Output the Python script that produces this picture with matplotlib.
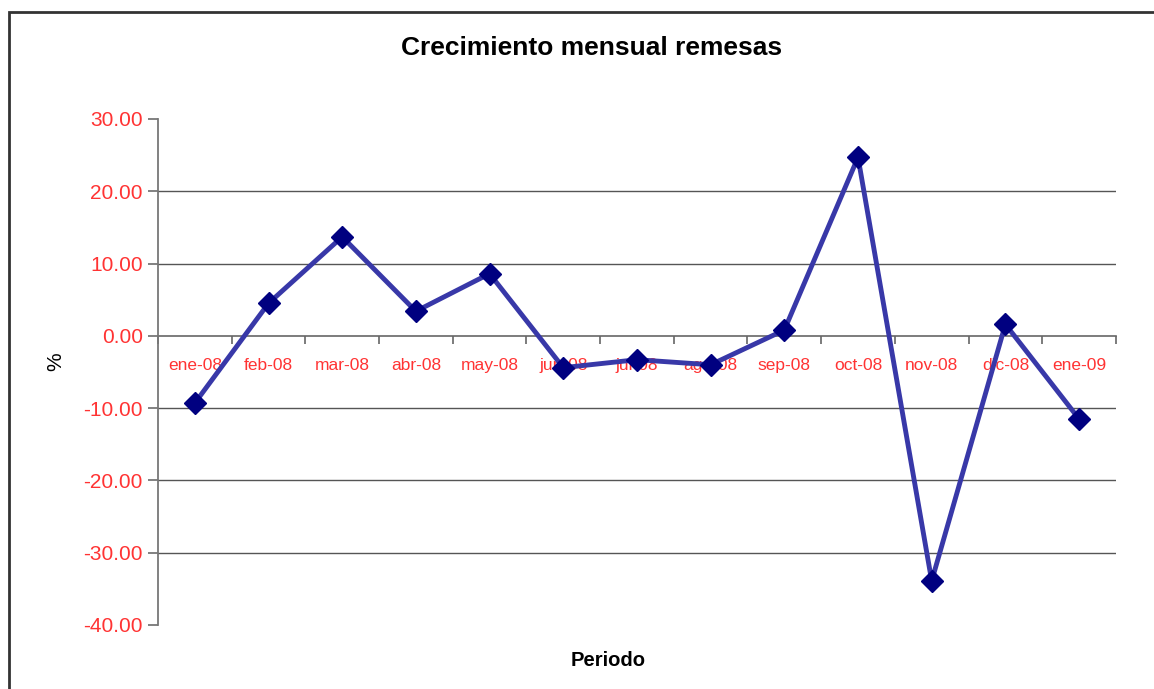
import matplotlib.pyplot as plt
from matplotlib.patches import Rectangle
import numpy as np

plt.rcParams['font.family'] = ['Liberation Sans', 'DejaVu Sans']

# data
periodos = ['ene-08', 'feb-08', 'mar-08', 'abr-08', 'may-08', 'jun-08', 'jul-08',
            'ago-08', 'sep-08', 'oct-08', 'nov-08', 'dic-08', 'ene-09']
crecimiento = [-9.3, 4.5, 13.7, 3.4, 8.6, -4.4, -3.3, -4.0, 0.8, 24.7, -33.9, 1.6, -11.5]
y_ticks = [-40, -30, -20, -10, 0, 10, 20, 30]
grid_vals = [-30, -20, -10, 10, 20]

fig = plt.figure(figsize=(11.54, 6.89), dpi=100)
ax = fig.add_axes([0.1369, 0.0929, 0.967 - 0.1369, 0.8273 - 0.0929])

x = np.arange(len(periodos))

# horizontal gridlines (no line at 30 or -40)
for g in grid_vals:
    ax.axhline(g, color='#555555', lw=1.0, zorder=1)

ax.plot(x, crecimiento, color='#3838A8', lw=3.5, zorder=4)
ax.plot(x, crecimiento, ls='none', marker='D', markersize=11,
        color='#000080', zorder=5)

ax.set_xlim(-0.5, len(periodos) - 0.5)
ax.set_ylim(-40, 30)

ax.spines['top'].set_visible(False)
ax.spines['right'].set_visible(False)
ax.spines['left'].set_color('#777777')
ax.spines['left'].set_linewidth(1.3)
ax.spines['bottom'].set_position(('data', 0))
ax.spines['bottom'].set_color('#666666')
ax.spines['bottom'].set_linewidth(1.2)
ax.spines['bottom'].set_zorder(2)

ax.set_yticks(y_ticks)
ax.set_yticklabels(['%.2f' % v for v in y_ticks])
ax.tick_params(axis='y', colors='#777777', labelcolor='#FF3333',
               labelsize=15, length=7, width=1.3, pad=4)

ax.set_xticks(x)
ax.set_xticklabels(periodos)
ax.set_xticks(np.arange(len(periodos) + 1) - 0.5, minor=True)
ax.tick_params(axis='x', which='major', length=0, labelcolor='#FF3333',
               labelsize=12.5, pad=16)
ax.tick_params(axis='x', which='minor', length=6, width=1.2, color='#666666',
               direction='out')
for lbl in ax.get_xticklabels():
    lbl.set_zorder(3)

fig.text(0.513, 0.93, 'Crecimiento mensual remesas', ha='center', va='center',
         fontsize=19, fontweight='bold')
fig.text(0.527, 0.042, 'Periodo', ha='center', va='center',
         fontsize=14.5, fontweight='bold')
fig.text(0.048, 0.475, '%', ha='center', va='center', rotation=90, fontsize=15)

# chart area border
fig.add_artist(Rectangle((9 / 1154, -0.1), 1.2, 1.1 - 12 / 689,
                         transform=fig.transFigure, fill=False,
                         edgecolor='#333333', lw=2))

fig.savefig('out.png', dpi=100)
